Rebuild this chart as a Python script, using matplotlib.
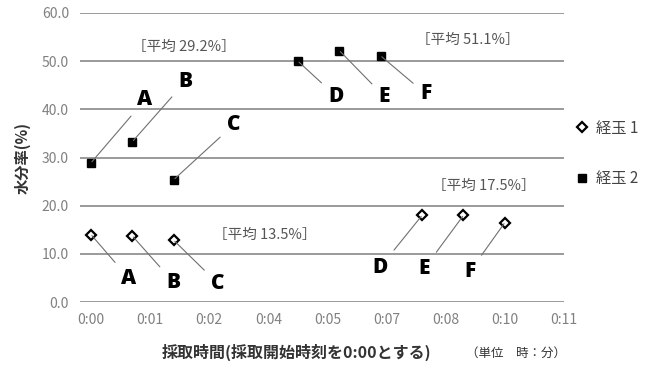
import matplotlib
matplotlib.use("Agg")
import matplotlib.pyplot as plt
from matplotlib.ticker import FixedLocator

plt.rcParams['font.family'] = ['Noto Sans CJK JP', 'DejaVu Sans']

# 採取時間(分)と水分率(%)
temps_1 = [0, 1, 2, 8, 9, 10]
eau_1 = [14.0, 13.7, 12.8, 18.0, 18.0, 16.5]
temps_2 = [0, 1, 2, 5, 6, 7]
eau_2 = [28.9, 33.3, 25.4, 50.0, 52.2, 51.1]
noms = ["A", "B", "C", "D", "E", "F"]

# moyennes par groupe (texte et position en données)
moyennes = ["［平均 29.2%］", "［平均 51.1%］", "［平均 13.5%］", "［平均 17.5%］"]
pos_moy = [(2.25, 52.9), (9.1, 54.4), (4.2, 13.9), (9.5, 24.1)]

# décalage des étiquettes A-F (pixels)
decal_1 = [(38, -44), (41, -46), (44, -43), (-42, -52), (-39, -53), (-35, -49)]
decal_2 = [(54, 63), (53, 60), (60, 55), (38, -35), (45, -46), (45, -38)]

pas = 10 / 7
graduations = [i * pas for i in range(9)]
etiquettes_x = ["0:%02d" % int(g) for g in graduations]

fig = plt.figure(figsize=(6.63, 3.67), dpi=100)
ax = fig.add_axes([80 / 663, 65 / 367, 484 / 663, 289 / 367])

for y in range(0, 61, 10):
    ax.axhline(y, color="#9a9a9a", lw=1.4, zorder=1)

p1, = ax.plot(temps_1, eau_1, ls="none", marker="D", ms=5, mfc="white",
              mec="black", mew=1.6, zorder=3, label="経玉 1")
p2, = ax.plot(temps_2, eau_2, ls="none", marker="s", ms=5.5, color="black",
              zorder=3, label="経玉 2")

def etiqueter(xs, ys, decal):
    for nom, x, y, d in zip(noms, xs, ys, decal):
        ax.annotate(nom, (x, y), xytext=d, textcoords="offset pixels",
                    ha="center", va="center", fontsize=15, fontweight="heavy",
                    family="Open Sans", color="black",
                    arrowprops=dict(arrowstyle="-", color="#707070", lw=0.8,
                                    shrinkA=4, shrinkB=1))

etiqueter(temps_1, eau_1, decal_1)
etiqueter(temps_2, eau_2, decal_2)

for txt, (x, y) in zip(moyennes, pos_moy):
    ax.text(x, y, txt, ha="center", va="center", fontsize=10.5, color="#555555")

ax.set_xlim(-0.266, graduations[-1])
ax.set_ylim(0, 60)
ax.xaxis.set_major_locator(FixedLocator(graduations))
ax.set_xticklabels(etiquettes_x)
ax.set_yticks(range(0, 61, 10))
ax.set_yticklabels(["%.1f" % v for v in range(0, 61, 10)])
ax.tick_params(length=0, labelsize=10, colors="#808080", pad=8)
for s in ax.spines.values():
    s.set_visible(False)

ax.set_ylabel("水分率(%)", fontsize=11, fontweight="bold", color="#333333", labelpad=8)
fig.text(296 / 663, 1 - 352 / 367, "採取時間(採取開始時刻を0:00とする)",
         ha="center", va="center", fontsize=11.5, fontweight="bold", color="#333333")
fig.text(516 / 663, 1 - 353 / 367, "（単位　時：分）",
         ha="center", va="center", fontsize=9, color="#333333")

fig.legend(handles=[p1, p2], loc="upper left", bbox_to_anchor=(562 / 663, 1 - 106 / 367),
           frameon=False, fontsize=11, labelspacing=2.2, handlelength=0.8,
           handletextpad=0.5, labelcolor="#444444")

fig.savefig("out.png", dpi=100)
